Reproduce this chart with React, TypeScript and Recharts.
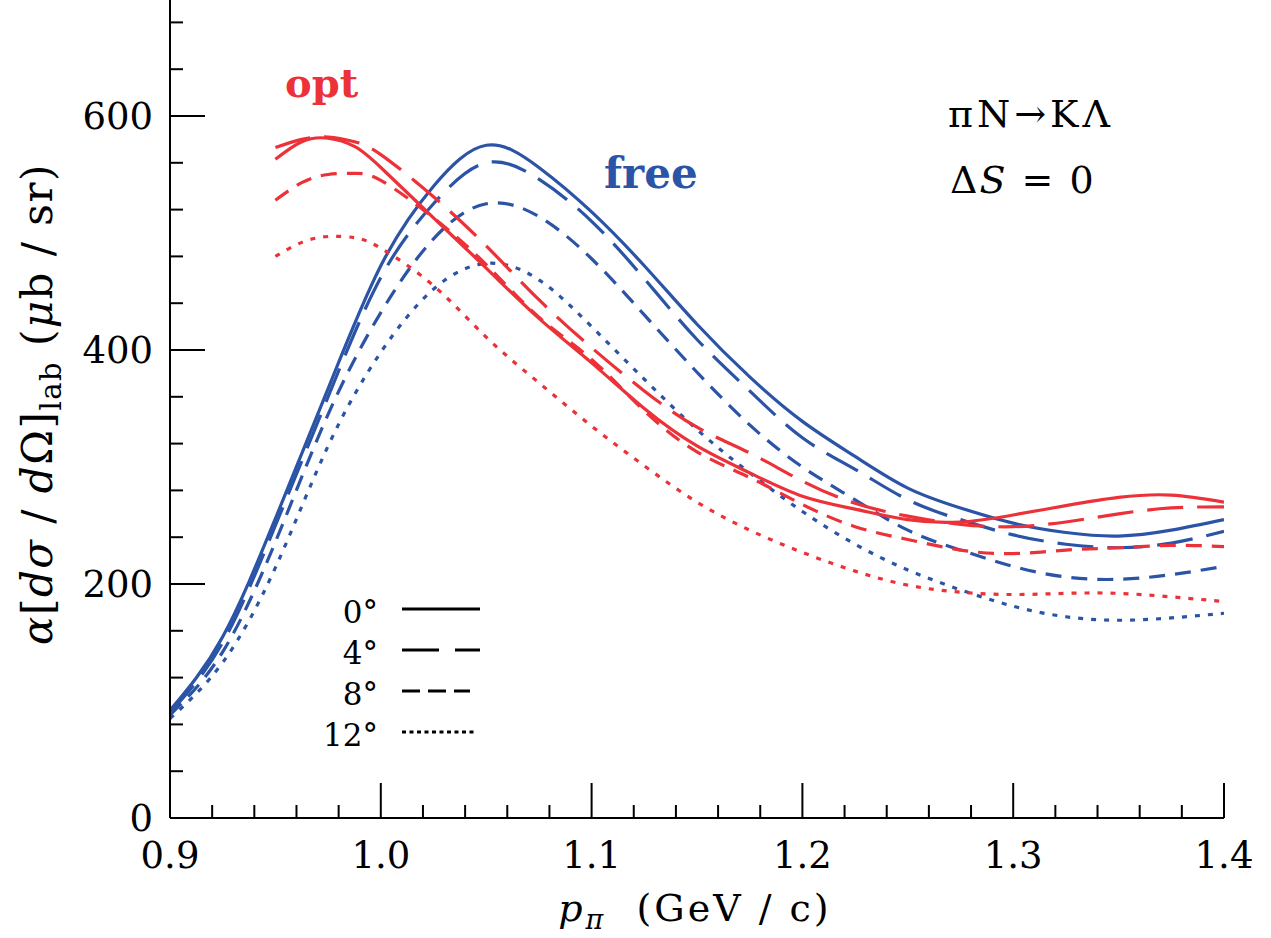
import React from "react";
import { LineChart, Line, XAxis, YAxis, Legend } from "recharts";

// momentum grid (GeV/c)
const pFree = [0.9, 0.925, 0.95, 0.975, 1.0, 1.025, 1.05, 1.075, 1.1, 1.125, 1.15, 1.175, 1.2, 1.225, 1.25, 1.275, 1.3, 1.325, 1.35, 1.375, 1.4];
const pOpt = [0.95, 0.9625, 0.975, 0.9875, 1.0, 1.025, 1.05, 1.075, 1.1, 1.125, 1.15, 1.175, 1.2, 1.225, 1.25, 1.275, 1.3, 1.325, 1.35, 1.375, 1.4];

// free cross sections (ub/sr)
const free0 = [92, 155, 256, 367, 472, 540, 575, 556, 518, 472, 422, 377, 339, 309, 282, 265, 252, 244, 241, 246, 255];
const free4 = [90, 150, 250, 360, 462, 525, 560, 546, 510, 461, 409, 365, 325, 298, 272, 255, 242, 234, 231, 235, 245];
const free8 = [88, 142, 236, 345, 432, 495, 525, 514, 478, 430, 381, 336, 300, 272, 246, 229, 215, 206, 204, 208, 215];
const free12 = [85, 133, 214, 318, 398, 452, 474, 460, 420, 375, 332, 295, 262, 234, 212, 195, 181, 172, 169, 171, 175];

// optical potential cross sections
const opt0 = [563, 578, 581, 574, 556, 513, 470, 427, 389, 350, 318, 295, 275, 264, 255, 253, 259, 267, 274, 276, 270];
const opt4 = [573, 580, 582, 578, 567, 531, 489, 443, 402, 365, 334, 312, 288, 269, 258, 251, 249, 253, 260, 265, 266];
const opt8 = [528, 543, 550, 551, 545, 513, 473, 428, 392, 348, 313, 291, 268, 249, 238, 229, 226, 229, 231, 233, 232];
const opt12 = [480, 492, 497, 496, 487, 455, 411, 372, 335, 301, 270, 246, 227, 211, 199, 193, 191, 192, 192, 189, 185];

const xTicks = [0.9, 0.92, 0.94, 0.96, 0.98, 1.0, 1.02, 1.04, 1.06, 1.08, 1.1, 1.12, 1.14, 1.16, 1.18, 1.2, 1.22, 1.24, 1.26, 1.28, 1.3, 1.32, 1.34, 1.36, 1.38, 1.4];
const yTicks = [0, 40, 80, 120, 160, 200, 240, 280, 320, 360, 400, 440, 480, 520, 560, 600, 640, 680];
const angleLabels = ["0°", "4°", "8°", "12°"];

const RED = "#ec3238";
const BLUE = "#2b54a6";
const FONT = "'DejaVu Serif', serif";
const dashes = ["", "36 14", "16 10", "5 8"];
const legendDashes = ["", "37 16", "18 8", "4 3.5"];
const legendLen = [78, 78, 68, 73];

const toPts = (xs: number[], ys: number[]) => xs.map((p, i) => ({ p, v: ys[i] }));

const series = [
  { key: "free0", color: BLUE, dash: dashes[0], data: toPts(pFree, free0) },
  { key: "free4", color: BLUE, dash: dashes[1], data: toPts(pFree, free4) },
  { key: "free8", color: BLUE, dash: dashes[2], data: toPts(pFree, free8) },
  { key: "free12", color: BLUE, dash: dashes[3], data: toPts(pFree, free12) },
  { key: "opt0", color: RED, dash: dashes[0], data: toPts(pOpt, opt0) },
  { key: "opt4", color: RED, dash: dashes[1], data: toPts(pOpt, opt4) },
  { key: "opt8", color: RED, dash: dashes[2], data: toPts(pOpt, opt8) },
  { key: "opt12", color: RED, dash: dashes[3], data: toPts(pOpt, opt12) },
];

const MAJOR = 35;
const MINOR = 13;
const isMajorX = (v: number) => Math.abs(v * 10 - Math.round(v * 10)) < 1e-6;

const BottomTick = (props: any) => {
  const { x, y, payload } = props;
  const major = isMajorX(payload.value);
  return (
    <g>
      <line x1={x} y1={y} x2={x} y2={y - (major ? MAJOR : MINOR)} stroke="#000" strokeWidth={2} />
      {major && (
        <text x={x} y={y + 50} textAnchor="middle" fontFamily={FONT} fontSize={37} fill="#000">
          {payload.value.toFixed(1)}
        </text>
      )}
    </g>
  );
};

const TopTick = (props: any) => {
  const { x, y, payload } = props;
  const major = isMajorX(payload.value);
  return <line x1={x} y1={y} x2={x} y2={y + (major ? MAJOR : MINOR)} stroke="#000" strokeWidth={2} />;
};

const LeftTick = (props: any) => {
  const { x, y, payload } = props;
  const major = payload.value % 200 === 0;
  return (
    <g>
      <line x1={x} y1={y} x2={x + (major ? MAJOR : MINOR)} y2={y} stroke="#000" strokeWidth={2} />
      {major && (
        <text x={x - 17} y={y + 13} textAnchor="end" fontFamily={FONT} fontSize={37} fill="#000">
          {payload.value}
        </text>
      )}
    </g>
  );
};

const RightTick = (props: any) => {
  const { x, y, payload } = props;
  const major = payload.value % 200 === 0;
  return <line x1={x} y1={y} x2={x - (major ? MAJOR : MINOR)} y2={y} stroke="#000" strokeWidth={2} />;
};

const AngleLegend = () => (
  <svg width={200} height={185} style={{ overflow: "visible" }}>
    {angleLabels.map((lab, i) => {
      const ly = 29 + i * 41;
      return (
        <g key={lab}>
          <text x={78} y={ly + 14} textAnchor="end" fontFamily={FONT} fontSize={31} fill="#000">
            {lab}
          </text>
          <line x1={102} x2={102 + legendLen[i]} y1={ly} y2={ly} stroke="#000" strokeWidth={3} strokeDasharray={legendDashes[i]} />
        </g>
      );
    })}
  </svg>
);

const axisLine = { stroke: "#000", strokeWidth: 2 };

export default function App() {
  return (
    <div style={{ position: "absolute", left: 0, top: 0, width: 1271, height: 938, overflow: "hidden", background: "#fff" }}>
      <div style={{ position: "absolute", left: 0, top: -1 }}>
        <LineChart width={1271} height={939} margin={{ top: 0, right: 47, bottom: 0, left: 0 }}>
          <XAxis
            xAxisId="bottom"
            type="number"
            dataKey="p"
            domain={[0.9, 1.4]}
            allowDataOverflow
            ticks={xTicks}
            interval={0}
            tickSize={0}
            tickMargin={0}
            tickLine={false}
            axisLine={axisLine}
            tick={<BottomTick />}
            height={120}
          />
          <XAxis
            xAxisId="top"
            orientation="top"
            type="number"
            dataKey="p"
            domain={[0.9, 1.4]}
            allowDataOverflow
            ticks={xTicks}
            interval={0}
            tickSize={0}
            tickMargin={0}
            tickLine={false}
            axisLine={axisLine}
            tick={<TopTick />}
            height={0}
          />
          <YAxis
            yAxisId="left"
            type="number"
            domain={[0, 700]}
            allowDataOverflow
            ticks={yTicks}
            interval={0}
            tickSize={0}
            tickMargin={0}
            tickLine={false}
            axisLine={axisLine}
            tick={<LeftTick />}
            width={170}
          />
          <YAxis
            yAxisId="right"
            orientation="right"
            type="number"
            domain={[0, 700]}
            allowDataOverflow
            ticks={yTicks}
            interval={0}
            tickSize={0}
            tickMargin={0}
            tickLine={false}
            axisLine={axisLine}
            tick={<RightTick />}
            width={0}
          />
          {series.map((s) => (
            <Line
              key={s.key}
              xAxisId="bottom"
              yAxisId="left"
              data={s.data}
              dataKey="v"
              type="natural"
              stroke={s.color}
              strokeWidth={3.2}
              strokeDasharray={s.dash}
              dot={false}
              activeDot={false}
              isAnimationActive={false}
            />
          ))}
          <Legend
            layout="horizontal"
            verticalAlign="middle"
            align="center"
            content={<AngleLegend />}
            wrapperStyle={{ position: "absolute", left: 300, top: 581, width: 200, height: 185 }}
          />
        </LineChart>
      </div>
      <svg width={1271} height={938} style={{ position: "absolute", left: 0, top: 0, pointerEvents: "none" }}>
        <text x={285} y={97} fontFamily={FONT} fontSize={40} fontWeight="bold" fill={RED}>
          opt
        </text>
        <text x={604} y={188} fontFamily={FONT} fontSize={42} fontWeight="bold" fill={BLUE}>
          free
        </text>
        <text x={948} y={127} fontFamily={FONT} fontSize={38} fill="#000" letterSpacing={4} style={{ whiteSpace: "pre" }}>
          πN→KΛ
        </text>
        <text x={950} y={193} fontFamily={FONT} fontSize={38} fill="#000" letterSpacing={2} style={{ whiteSpace: "pre" }}>
          Δ<tspan fontStyle="italic">S</tspan> = 0
        </text>
        <text
          transform="translate(52,404) rotate(-90)"
          textAnchor="middle"
          fontFamily={FONT}
          fontSize={42}
          fill="#000"
          letterSpacing={1.5}
          style={{ whiteSpace: "pre" }}
        >
          <tspan fontStyle="italic">α</tspan>[<tspan fontStyle="italic">dσ</tspan> / <tspan fontStyle="italic">d</tspan>Ω]
          <tspan fontSize={29} dy={9}>lab</tspan>
          <tspan dy={-9}> (</tspan>
          <tspan fontStyle="italic">μ</tspan>b / sr)
        </text>
        <text x={695} y={921} textAnchor="middle" fontFamily={FONT} fontSize={38} fill="#000" letterSpacing={3} style={{ whiteSpace: "pre" }}>
          <tspan fontStyle="italic">p</tspan>
          <tspan fontStyle="italic" fontSize={27} dy={8}>π</tspan>
          <tspan dy={-8}>  (GeV / c)</tspan>
        </text>
      </svg>
    </div>
  );
}
